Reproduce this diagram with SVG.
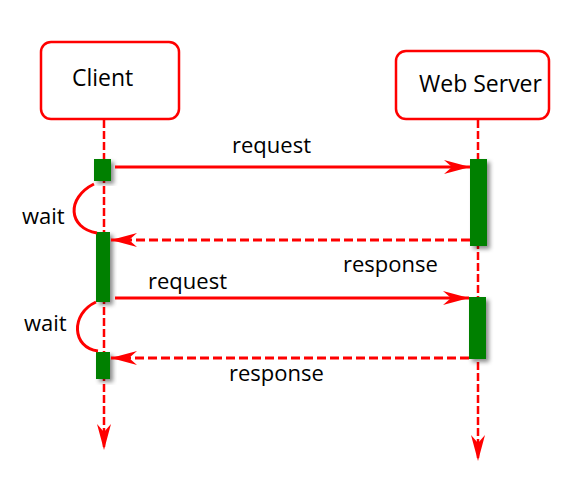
<svg xmlns="http://www.w3.org/2000/svg" width="578" height="481" viewBox="0 0 578 481">
  <style>
    .box { fill: #ffffff; stroke: #ff0000; stroke-width: 2.5; }
    .name { font-family: "Open Sans", "Noto Sans", sans-serif; font-size: 23px; fill: #000000; }
    .lbl { font-family: "Open Sans", "Noto Sans", sans-serif; font-size: 22px; fill: #000000; }
    .life { fill: none; stroke: #ff0000; stroke-width: 2.5; stroke-dasharray: 8 3; }
    .msg { fill: none; stroke: #ff0000; stroke-width: 3; }
    .ret { fill: none; stroke: #ff0000; stroke-width: 3; stroke-dasharray: 9 4; }
    .bar { fill: #008000; filter: url(#shadow); }
  </style>
  <defs>
    <filter id="shadow" x="-50%" y="-20%" width="200%" height="140%">
      <feDropShadow dx="3" dy="3" stdDeviation="2" flood-color="#000000" flood-opacity="0.45"/>
    </filter>
    <marker id="arrow" viewBox="-27 -8 28 16" refX="0" refY="0" markerWidth="28" markerHeight="16" markerUnits="userSpaceOnUse" orient="auto">
      <path d="M0,0 L-26,-7 L-18,0 L-26,7 Z" fill="#ff0000"/>
    </marker>
  </defs>
  <rect width="578" height="481" fill="#ffffff"/>

  <g id="lifelines">
    <line class="life" x1="104" y1="120" x2="104" y2="450" marker-end="url(#arrow)"/>
    <line class="life" x1="478" y1="120" x2="478" y2="461" marker-end="url(#arrow)"/>
  </g>

  <g id="client">
    <rect class="box" x="41" y="42" width="138" height="77" rx="10"/>
    <text class="name" x="72" y="86">Client</text>
  </g>
  <g id="webserver">
    <rect class="box" x="396" y="51" width="153" height="68" rx="10"/>
    <text class="name" x="419" y="92">Web Server</text>
  </g>

  <g id="activations">
    <rect class="bar" x="94" y="159" width="17" height="22"/>
    <rect class="bar" x="96" y="232" width="14" height="70"/>
    <rect class="bar" x="96" y="352" width="14" height="27"/>
    <rect class="bar" x="470" y="159" width="17" height="87"/>
    <rect class="bar" x="469" y="297" width="17" height="62"/>
  </g>

  <g id="connectors">
    <line class="msg" x1="115" y1="167" x2="470" y2="167" marker-end="url(#arrow)"/>
    <line class="ret" x1="470" y1="240" x2="111" y2="240" marker-end="url(#arrow)"/>
    <line class="msg" x1="115" y1="298" x2="469" y2="298" marker-end="url(#arrow)"/>
    <line class="ret" x1="469" y1="358" x2="111" y2="358" marker-end="url(#arrow)"/>
    <path class="msg" d="M94,184 C66,198 68,228 97,233"/>
    <path class="msg" d="M96,302 C70,314 72,348 98,351"/>
  </g>

  <g id="labels">
    <text class="lbl" x="232" y="153">request</text>
    <text class="lbl" x="343" y="272">response</text>
    <text class="lbl" x="148" y="289">request</text>
    <text class="lbl" x="229" y="381">response</text>
    <text class="lbl" x="22" y="224">wait</text>
    <text class="lbl" x="24" y="331">wait</text>
  </g>
</svg>
